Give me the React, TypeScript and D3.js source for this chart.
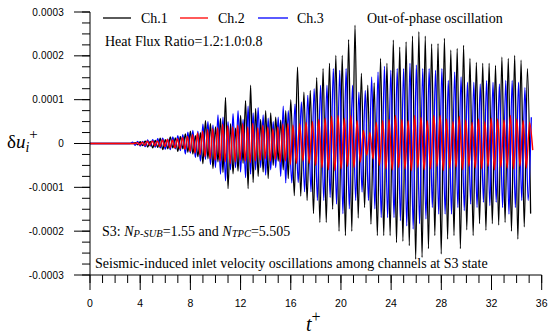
import React from 'react';
import * as d3 from 'd3';

const W = 550;
const H = 336;
const UNIT = 1e-5;

// axis ticks
const xTicks = [0, 4, 8, 12, 16, 20, 24, 28, 32, 36];
const xTickLabels = ['0', '4', '8', '12', '16', '20', '24', '28', '32', '36'];
const yTicks = [0.0003, 0.0002, 0.0001, 0, -0.0001, -0.0002, -0.0003];
const yTickLabels = ['0.0003', '0.0002', '0.0001', '0', '-0.0001', '-0.0002', '-0.0003'];

// sampling of extrema (time axis)
const CHAOS_START = 3.4;
const CHAOS_STEP = 0.2;
const PERIODIC_START = 16.285;
const HALF_PERIOD = 0.2545;

const channelNames = ['Ch.1', 'Ch.2', 'Ch.3'];
const channelColors = ['#000000', '#ff0000', '#0000ff'];
const channelShift = [0, 0.17, -0.2];

// values in units of 1e-5, alternating extrema (irregular growth phase)
const ch1Chaos = [0, 0.2, -0.3, 0.4, -0.5, 0.6, -0.8, 0.5, -1.0, 0.7, -0.9, 1.2, -1.4, 0.9, -1.2, 1.5, -1.0, 1.3, -1.8, 1.6,
  -1.2, 2.2, -2.0, 2.8, -2.4, 1.8, -3.0, 2.5, -4.6, 5.2, -3.5, 4.5, -5.7, 3.8, -4.2, 5.7, -6.6, 10.5, -10.3, 4.5,
  -6.9, 3.5, -6.3, 6.4, -4.5, 9.8, -10.3, 13.3, -8.9, 8.0, -7.5, 5.5, -6.5, 7.5, -8.0, 7.0, -5.0, 6.0, -4.0, 5.3,
  -6.0, 7.5, -8.0, 10.0];
const ch2Chaos = [0, 0.2, -0.3, 0.3, -0.4, 0.5, -0.4, 0.6, -0.5, 0.6, -0.7, 0.8, -0.7, 0.9, -1.0, 0.8, -1.0, 1.1, -1.2, 1.4,
  -1.3, 1.6, -1.8, 2.0, -2.2, 2.4, -2.6, 2.8, -3.0, 3.2, -3.5, 3.4, -3.8, 3.6, -4.0, 4.4, -4.2, 4.0, -4.6, 3.8,
  -4.2, 4.2, -3.8, 4.5, -4.0, 3.8, -4.4, 4.6, -4.0, 3.6, -3.8, 4.2, -3.5, 3.8, -4.0, 3.4, -3.6, 3.8, -4.2, 4.4,
  -4.0, 4.5, -4.8, 4.2];
const ch3Chaos = [0, 0.3, -0.4, 0.5, -0.6, 0.5, -0.7, 0.8, -0.6, 0.9, -0.8, 1.1, -1.0, 1.2, -1.3, 1.0, -1.4, 1.5, -1.2, 1.8,
  -1.6, 2.0, -2.4, 2.6, -2.2, 3.0, -3.2, 2.8, -4.0, 4.4, -3.6, 5.0, -4.8, 4.2, -5.5, 6.5, -7.0, 6.0, -8.5, 5.0,
  -6.0, 6.8, -5.5, 7.5, -6.5, 5.5, -7.8, 8.5, -7.0, 7.0, -6.0, 8.2, -5.5, 6.5, -7.2, 5.8, -6.0, 5.0, -5.5, 6.0,
  -7.5, 8.5, -9.0, 7.5];

// periodic (out-of-phase) regime: per-cycle maxima and minima, units of 1e-5
const ch1Start = -11.9;
const ch1Tops = [17.4, 11.7, 12.1, 15, 17.1, 18.3, 20.1, 20.1, 23.7, 27, 16, 13.3, 13.8, 19.4, 18.3, 23.6, 22, 23.2, 24.5, 25.5,
  24.5, 22.7, 22.8, 24, 21.3, 21.7, 22.4, 19.4, 18.5, 18.3, 18.3, 17.8, 19.7, 19.4, 20.1, 19, 17.1];
const ch1Bottoms = [-12, -13, -16, -18, -18, -15, -20, -21, -20, -17, -14.6, -18.4, -21, -21, -21, -22.6, -22.3, -23.3, -26.4, -26,
  -24, -21, -25.2, -21.8, -21, -24, -19.7, -21, -18.3, -19.8, -18.3, -18.6, -18, -20, -21.8, -19, -16];
const ch1End: number[] = [];

const ch2Start = -4.5;
const ch2Tops = [4.5, 4.8, 5, 5.5, 5.8, 6.2, 6.4, 5.8, 6.4, 5.2, 3.0, 2.5, 4.8, 5.2, 5.5, 6.4, 5.5, 5.2, 6.4, 6.0,
  5.2, 6.4, 6.4, 5.6, 5.0, 6.2, 5.4, 4.8, 5.6, 5.0, 5.8, 5.6, 5.4, 6.4, 5.6, 5.2, 4.8];
const ch2Bottoms = [-4.0, -4.5, -5, -5.5, -6, -6.2, -5.8, -5.2, -5.5, -4.2, -2.7, -3.5, -5, -5.8, -6, -5.5, -5.8, -6.2, -5.5, -6,
  -5.8, -5.2, -6.2, -5.6, -5.4, -6.0, -5.2, -5.6, -5.8, -5.2, -6.0, -5.4, -5.6, -5.8, -5.2, -5.6, -1.5];
const ch2End: number[] = [];

const ch3Start = -9;
const ch3Tops = [9, 9.5, 11, 12.5, 13.3, 13.3, 17.1, 16.7, 17.1, 13.3, 11.7, 12.1, 15.2, 16.3, 17.6, 16.7, 17.1, 17.1, 18.3, 17.9,
  17.1, 17.1, 16.7, 17.1, 14.4, 16.3, 15.2, 14, 14, 13.6, 14.4, 14, 13.6, 14.4, 14.4, 14, 12.8];
const ch3Bottoms = [-8.9, -11, -11, -13, -13, -12.3, -13.8, -16, -14.9, -13, -11.1, -13, -14.9, -16.9, -16.9, -16.9, -17.6, -18.8, -19.5, -18.3,
  -17.2, -14.6, -16.1, -16.1, -16.1, -14.6, -15.3, -13.8, -14.6, -13.4, -14.2, -13.4, -14.6, -16.1, -14.6, -13, -13];
const ch3End = [6];

function buildSeries(chaos: number[], start: number, tops: number[], bottoms: number[], end: number[], shift: number) {
  const pts: [number, number][] = [[0, 0]];
  chaos.forEach((v, i) => pts.push([CHAOS_START + shift + i * CHAOS_STEP, v * UNIT]));
  const seq: number[] = [start];
  tops.forEach((t, i) => { seq.push(t, bottoms[i]); });
  end.forEach((v) => seq.push(v));
  seq.forEach((v, i) => pts.push([PERIODIC_START + shift + i * HALF_PERIOD, v * UNIT]));
  return pts;
}

const series = [
  buildSeries(ch1Chaos, ch1Start, ch1Tops, ch1Bottoms, ch1End, channelShift[0]),
  buildSeries(ch2Chaos, ch2Start, ch2Tops, ch2Bottoms, ch2End, channelShift[1]),
  buildSeries(ch3Chaos, ch3Start, ch3Tops, ch3Bottoms, ch3End, channelShift[2]),
];
const drawOrder = [0, 2, 1];

const SERIF = '"Liberation Serif", "Times New Roman", serif';
const SANS = '"Liberation Sans", Arial, sans-serif';

export default function App() {
  const x = d3.scaleLinear().domain([0, 36]).range([90, 541.7]);
  const y = d3.scaleLinear().domain([-0.0003, 0.0003]).range([275, 12]);
  const line = d3.line<[number, number]>().x((d) => x(d[0])).y((d) => y(d[1])).curve(d3.curveMonotoneX);

  const xMinor = d3.range(0, 37, 1);
  const yMinor = d3.range(-12, 13).map((i) => i * 0.000025);
  const x0 = x(0);
  const yb = y(-0.0003);

  const legendItems = [
    { x1: 103, x2: 131, tx: 141 },
    { x1: 180, x2: 208, tx: 218 },
    { x1: 258, x2: 288, tx: 297 },
  ];

  return (
    <svg width={W} height={H} style={{ position: 'absolute', left: 0, top: 0, background: '#fff' }}>
      <rect x={0} y={0} width={W} height={H} fill="#fff" />
      {drawOrder.map((ci) => (
        <path key={ci} d={line(series[ci]) || ''} fill="none" stroke={channelColors[ci]}
          strokeWidth={ci === 1 ? 1.4 : 1.3} strokeLinejoin="round" />
      ))}

      {/* y axis */}
      <line x1={x0} x2={x0} y1={y(0.0003)} y2={yb} stroke="#000" strokeWidth={1} />
      {yMinor.map((v, i) => (
        <line key={'ym' + i} x1={x0 - 8} x2={x0} y1={y(v)} y2={y(v)} stroke="#000" strokeWidth={1} />
      ))}
      {yTicks.map((v, i) => (
        <g key={'y' + i}>
          <line x1={x0 - 16} x2={x0} y1={y(v)} y2={y(v)} stroke="#000" strokeWidth={1} />
          <text x={x0 - 26} y={y(v)} dy="0.35em" textAnchor="end" fontFamily={SANS} fontSize={10}
            letterSpacing={0.2} fill="#000">{yTickLabels[i]}</text>
        </g>
      ))}

      {/* x axis */}
      <line x1={x0} x2={x(36)} y1={yb} y2={yb} stroke="#000" strokeWidth={1} />
      {xMinor.map((v, i) => (
        <line key={'xm' + i} x1={x(v)} x2={x(v)} y1={yb} y2={yb + 8} stroke="#000" strokeWidth={1} />
      ))}
      {xTicks.map((v, i) => (
        <g key={'x' + i}>
          <line x1={x(v)} x2={x(v)} y1={yb} y2={yb + 15} stroke="#000" strokeWidth={1} />
          <text x={x(v)} y={yb + 32} textAnchor="middle" fontFamily={SANS} fontSize={10.5} fill="#000">{xTickLabels[i]}</text>
        </g>
      ))}

      {/* axis titles */}
      <text x={7} y={148} fontFamily={SERIF} fontSize={19} fill="#000">
        δ<tspan fontStyle="italic">u</tspan>
        <tspan fontStyle="italic" fontSize={14} dy={4}>i</tspan>
        <tspan fontSize={15} dy={-13}>+</tspan>
      </text>
      <text x={306} y={331} fontFamily={SERIF} fontSize={20} fill="#000">
        <tspan fontStyle="italic">t</tspan>
        <tspan fontSize={16} dy={-9}>+</tspan>
      </text>

      {/* legend */}
      {legendItems.map((it, i) => (
        <g key={'lg' + i}>
          <line x1={it.x1} x2={it.x2} y1={18} y2={18} stroke={channelColors[i]} strokeWidth={1.3} />
          <text x={it.tx} y={23} fontFamily={SERIF} fontSize={14} fill="#000">{channelNames[i]}</text>
        </g>
      ))}
      <text x={367} y={23} fontFamily={SERIF} fontSize={14} fill="#000">Out-of-phase oscillation</text>
      <text x={105} y={46} fontFamily={SERIF} fontSize={14} fill="#000">Heat Flux Ratio=1.2:1.0:0.8</text>

      <text x={102} y={236} fontFamily={SERIF} fontSize={14} fill="#000">
        S3: <tspan fontStyle="italic">N</tspan>
        <tspan fontStyle="italic" fontSize={10.5} dy={1}>P-SUB</tspan>
        <tspan dy={-1}>=1.55 and </tspan>
        <tspan fontStyle="italic">N</tspan>
        <tspan fontStyle="italic" fontSize={10.5} dy={1}>TPC</tspan>
        <tspan dy={-1}>=5.505</tspan>
      </text>
      <text x={95} y={268} fontFamily={SERIF} fontSize={14} fill="#000">
        Seismic-induced inlet velocity oscillations among channels at S3 state
      </text>
    </svg>
  );
}
